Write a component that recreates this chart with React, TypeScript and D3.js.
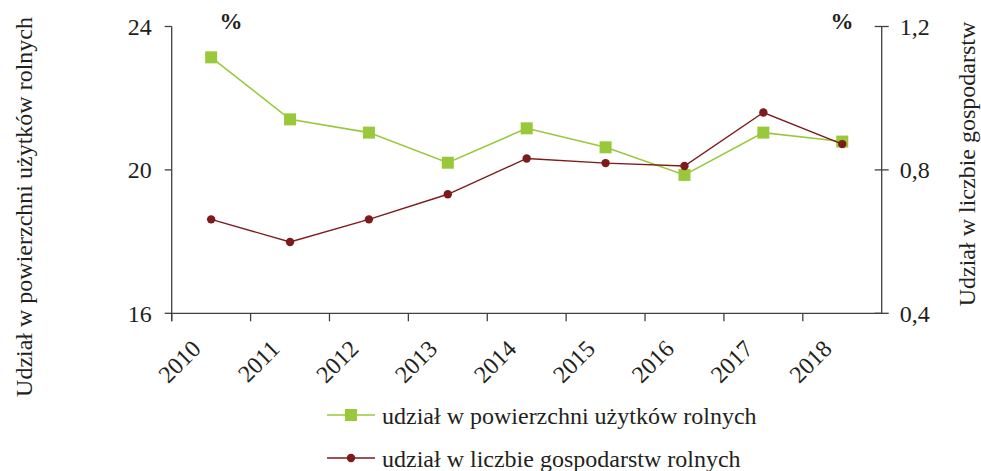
import React from "react";
import * as d3 from "d3";

const years = ["2010", "2011", "2012", "2013", "2014", "2015", "2016", "2017", "2018"];
const areaShare = [23.14, 21.41, 21.04, 20.2, 21.16, 20.63, 19.86, 21.04, 20.79];
const farmsShare = [0.662, 0.599, 0.662, 0.732, 0.832, 0.819, 0.811, 0.96, 0.872];
const leftTicks = [16, 20, 24];
const rightTicks = [0.4, 0.8, 1.2];
const leftTitle = "Udział w powierzchni użytków rolnych";
const rightTitle = "Udział w liczbie gospodarstw";
const legendLabels = ["udział w powierzchni użytków rolnych", "udział w liczbie gospodarstw rolnych"];

const W = 981;
const H = 471;
const X0 = 171.7;
const X1 = 881.7;
const YT = 26.5;
const YB = 313.3;
const GREEN = "#99c93a";
const RED = "#7d1a1c";
const AXIS = "#404040";
const TEXT = "#231f20";
const FONT = "'Liberation Serif', 'Times New Roman', serif";

export default function App() {
  const x = d3.scaleBand<string>().domain(years).range([X0, X1]).padding(0);
  const yL = d3.scaleLinear().domain([16, 24]).range([YB, YT]);
  const yR = d3.scaleLinear().domain([0.4, 1.2]).range([YB, YT]);
  const cx = (y: string) => (x(y) as number) + x.bandwidth() / 2;

  const greenLine = d3
    .line<number>()
    .x((_, i) => cx(years[i]))
    .y((d) => yL(d))(areaShare) as string;
  const redLine = d3
    .line<number>()
    .x((_, i) => cx(years[i]))
    .y((d) => yR(d))(farmsShare) as string;

  const fmt = (v: number) => String(v).replace(".", ",");

  return (
    <svg
      width={W}
      height={H}
      style={{ position: "absolute", left: 0, top: 0, background: "#fff" }}
      fontFamily={FONT}
    >
      {/* axes */}
      <line x1={X0} y1={YT} x2={X0} y2={YB + 8} stroke={AXIS} strokeWidth={1.3} />
      <line x1={X1} y1={YT} x2={X1} y2={YB} stroke={AXIS} strokeWidth={1.3} />
      <line x1={X0} y1={YB} x2={X1} y2={YB} stroke={AXIS} strokeWidth={1.3} />
      {leftTicks.map((t) => (
        <g key={"l" + t}>
          <line x1={X0 - 7} x2={X0} y1={yL(t)} y2={yL(t)} stroke={AXIS} strokeWidth={1.3} />
          <text x={X0 - 20} y={yL(t)} dy="0.35em" textAnchor="end" fontSize={24} fill={TEXT}>
            {t}
          </text>
        </g>
      ))}
      {rightTicks.map((t) => (
        <g key={"r" + t}>
          <line x1={X1 - 7} x2={X1 + 7} y1={yR(t)} y2={yR(t)} stroke={AXIS} strokeWidth={1.3} />
          <text x={X1 + 18} y={yR(t)} dy="0.35em" textAnchor="start" fontSize={24} fill={TEXT}>
            {fmt(t)}
          </text>
        </g>
      ))}
      {years.map((yr) => (
        <g key={"x" + yr}>
          <line x1={x(yr) as number} x2={x(yr) as number} y1={YB} y2={YB + 8} stroke={AXIS} strokeWidth={1.3} />
          <text
            transform={`translate(${cx(yr) - 9},${YB + 37}) rotate(-45)`}
            textAnchor="end"
            fontSize={24}
            fill={TEXT}
          >
            {yr}
          </text>
        </g>
      ))}

      {/* % labels */}
      <text x={231} y={29} textAnchor="middle" fontSize={23} fontWeight="bold" fill={TEXT}>
        %
      </text>
      <text x={842} y={29} textAnchor="middle" fontSize={23} fontWeight="bold" fill={TEXT}>
        %
      </text>

      {/* axis titles */}
      <text transform={`translate(32,207) rotate(-90)`} textAnchor="middle" fontSize={24} fill={TEXT}>
        {leftTitle}
      </text>
      <text transform={`translate(975,164) rotate(-90)`} textAnchor="middle" fontSize={24} fill={TEXT}>
        {rightTitle}
      </text>

      {/* series */}
      <path d={greenLine} fill="none" stroke={GREEN} strokeWidth={1.6} />
      {areaShare.map((v, i) => (
        <rect key={"g" + i} x={cx(years[i]) - 6} y={yL(v) - 6} width={12} height={12} fill={GREEN} />
      ))}
      <path d={redLine} fill="none" stroke={RED} strokeWidth={1.4} />
      {farmsShare.map((v, i) => (
        <circle key={"c" + i} cx={cx(years[i])} cy={yR(v)} r={4.2} fill={RED} />
      ))}

      {/* legend */}
      <g>
        <line x1={327} x2={375} y1={415} y2={415} stroke={GREEN} strokeWidth={1.6} />
        <rect x={345} y={409} width={12} height={12} fill={GREEN} />
        <text x={382} y={424} fontSize={24} fill={TEXT}>
          {legendLabels[0]}
        </text>
        <line x1={327} x2={375} y1={458} y2={458} stroke={RED} strokeWidth={1.4} />
        <circle cx={351} cy={458} r={4.2} fill={RED} />
        <text x={382} y={467} fontSize={24} fill={TEXT}>
          {legendLabels[1]}
        </text>
      </g>
    </svg>
  );
}
